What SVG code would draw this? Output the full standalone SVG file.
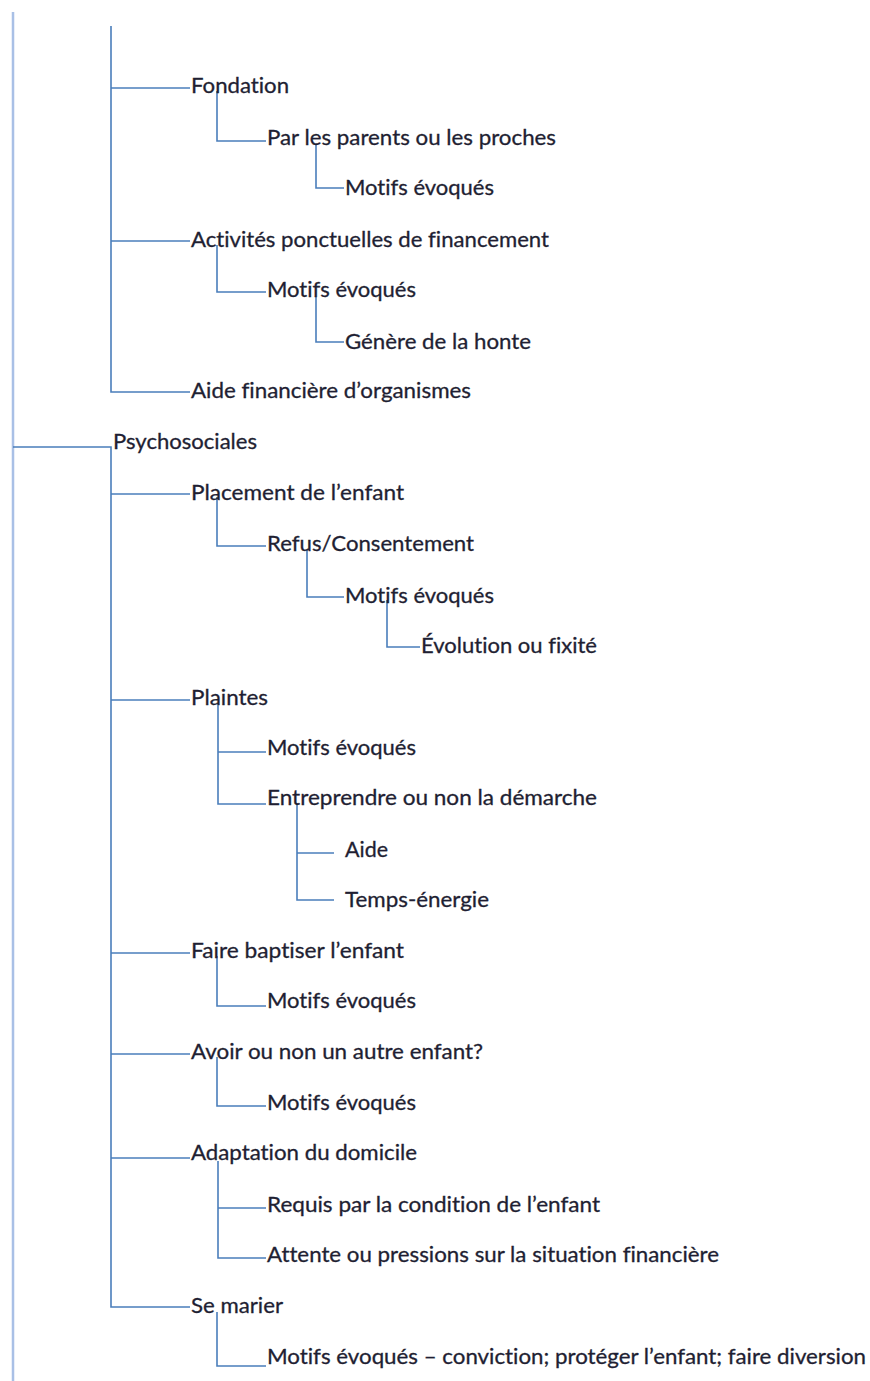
<svg xmlns="http://www.w3.org/2000/svg" width="870" height="1381" viewBox="0 0 870 1381">
  <style>
    .lbl { font-family: "Lato", "Open Sans", "Liberation Sans", sans-serif; font-size: 21px; fill: #1f1f33; stroke: #1f1f33; stroke-width: 0.3; font-variant-ligatures: none; font-feature-settings: "liga" 0; }
    .link { fill: none; stroke: #4a7ebb; stroke-width: 1.6; }
    .trunk { fill: none; stroke: #a9c0e6; stroke-width: 2.5; }
  </style>
  <rect width="870" height="1381" fill="#ffffff"/>

  <!-- connectors -->
  <g id="connectors">
    <line class="trunk" x1="13" y1="12" x2="13" y2="1381"/>
    <!-- first branch (financial) -->
    <path class="link" d="M111 26 V392 H190"/>
    <path class="link" d="M111 88 H190"/>
    <path class="link" d="M111 241 H190"/>
    <path class="link" d="M217 91 V141 H266"/>
    <path class="link" d="M316 145 V188 H344"/>
    <path class="link" d="M217 245 V292 H266"/>
    <path class="link" d="M316 297 V342 H344"/>
    <!-- Psychosociales branch -->
    <path class="link" d="M13 447 H111 V1307 H190"/>
    <path class="link" d="M111 494 H190"/>
    <path class="link" d="M217 497 V546 H266"/>
    <path class="link" d="M307 550 V597 H344"/>
    <path class="link" d="M387 600 V647 H420"/>
    <path class="link" d="M111 700 H190"/>
    <path class="link" d="M218 703 V804 H266"/>
    <path class="link" d="M218 752 H266"/>
    <path class="link" d="M297 803 V900 H334"/>
    <path class="link" d="M297 853 H334"/>
    <path class="link" d="M111 953 H190"/>
    <path class="link" d="M217 956 V1006 H266"/>
    <path class="link" d="M111 1054 H190"/>
    <path class="link" d="M217 1057 V1106 H266"/>
    <path class="link" d="M111 1158 H190"/>
    <path class="link" d="M218 1161 V1258 H266"/>
    <path class="link" d="M218 1208 H266"/>
    <path class="link" d="M217 1312 V1366 H266"/>
  </g>

  <!-- nodes -->
  <g id="n-fondation"><text class="lbl" x="191" y="93" textLength="98" lengthAdjust="spacingAndGlyphs">Fondation</text></g>
  <g id="n-parents"><text class="lbl" x="267" y="145" textLength="289" lengthAdjust="spacingAndGlyphs">Par les parents ou les proches</text></g>
  <g id="n-parents-motifs"><text class="lbl" x="345" y="195" textLength="149" lengthAdjust="spacingAndGlyphs">Motifs évoqués</text></g>
  <g id="n-activites"><text class="lbl" x="191" y="247" textLength="358" lengthAdjust="spacingAndGlyphs">Activités ponctuelles de financement</text></g>
  <g id="n-activites-motifs"><text class="lbl" x="267" y="297" textLength="149" lengthAdjust="spacingAndGlyphs">Motifs évoqués</text></g>
  <g id="n-honte"><text class="lbl" x="345" y="349" textLength="186" lengthAdjust="spacingAndGlyphs">Génère de la honte</text></g>
  <g id="n-aide-fin"><text class="lbl" x="191" y="398" textLength="280" lengthAdjust="spacingAndGlyphs">Aide financière d’organismes</text></g>
  <g id="n-psycho"><text class="lbl" x="113" y="449" textLength="144" lengthAdjust="spacingAndGlyphs">Psychosociales</text></g>
  <g id="n-placement"><text class="lbl" x="191" y="500" textLength="213" lengthAdjust="spacingAndGlyphs">Placement de l’enfant</text></g>
  <g id="n-refus"><text class="lbl" x="267" y="551" textLength="207" lengthAdjust="spacingAndGlyphs">Refus/Consentement</text></g>
  <g id="n-refus-motifs"><text class="lbl" x="345" y="603" textLength="149" lengthAdjust="spacingAndGlyphs">Motifs évoqués</text></g>
  <g id="n-evolution"><text class="lbl" x="421" y="653" textLength="176" lengthAdjust="spacingAndGlyphs">Évolution ou fixité</text></g>
  <g id="n-plaintes"><text class="lbl" x="191" y="705" textLength="77" lengthAdjust="spacingAndGlyphs">Plaintes</text></g>
  <g id="n-plaintes-motifs"><text class="lbl" x="267" y="755" textLength="149" lengthAdjust="spacingAndGlyphs">Motifs évoqués</text></g>
  <g id="n-entreprendre"><text class="lbl" x="267" y="805" textLength="330" lengthAdjust="spacingAndGlyphs">Entreprendre ou non la démarche</text></g>
  <g id="n-aide"><text class="lbl" x="345" y="857" textLength="43" lengthAdjust="spacingAndGlyphs">Aide</text></g>
  <g id="n-temps"><text class="lbl" x="345" y="907" textLength="144" lengthAdjust="spacingAndGlyphs">Temps-énergie</text></g>
  <g id="n-baptiser"><text class="lbl" x="191" y="958" textLength="213" lengthAdjust="spacingAndGlyphs">Faire baptiser l’enfant</text></g>
  <g id="n-baptiser-motifs"><text class="lbl" x="267" y="1008" textLength="149" lengthAdjust="spacingAndGlyphs">Motifs évoqués</text></g>
  <g id="n-autre-enfant"><text class="lbl" x="191" y="1059" textLength="292" lengthAdjust="spacingAndGlyphs">Avoir ou non un autre enfant?</text></g>
  <g id="n-autre-motifs"><text class="lbl" x="267" y="1110" textLength="149" lengthAdjust="spacingAndGlyphs">Motifs évoqués</text></g>
  <g id="n-adaptation"><text class="lbl" x="191" y="1160" textLength="226" lengthAdjust="spacingAndGlyphs">Adaptation du domicile</text></g>
  <g id="n-requis"><text class="lbl" x="267" y="1212" textLength="333" lengthAdjust="spacingAndGlyphs">Requis par la condition de l’enfant</text></g>
  <g id="n-attente"><text class="lbl" x="267" y="1262" textLength="452" lengthAdjust="spacingAndGlyphs">Attente ou pressions sur la situation financière</text></g>
  <g id="n-marier"><text class="lbl" x="191" y="1313" textLength="92" lengthAdjust="spacingAndGlyphs">Se marier</text></g>
  <g id="n-marier-motifs"><text class="lbl" x="267" y="1364" textLength="599" lengthAdjust="spacingAndGlyphs">Motifs évoqués – conviction; protéger l’enfant; faire diversion</text></g>
</svg>
